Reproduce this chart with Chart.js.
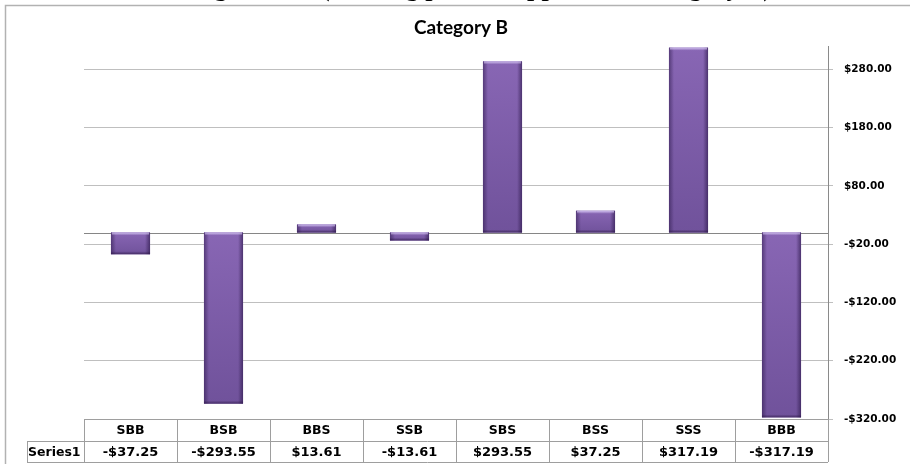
<!DOCTYPE html>
<html>
<head>
<meta charset="utf-8">
<script src="https://cdn.jsdelivr.net/npm/chart.js@4.4.1/dist/chart.umd.min.js"></script>
<style>
  html, body { margin: 0; padding: 0; background: #ffffff; overflow: hidden; }
  canvas { display: block; }
</style>
</head>
<body>
<canvas id="chart" width="910" height="464"></canvas>
<script>
// Series data
const categories = ['SBB', 'BSB', 'BBS', 'SSB', 'SBS', 'BSS', 'SSS', 'BBB'];
const series1 = [-37.25, -293.55, 13.61, -13.61, 293.55, 37.25, 317.19, -317.19];
const seriesName = 'Series1';

// Value axis
const yTickValues = [-320, -220, -120, -20, 80, 180, 280];
const yMin = -320;
const yMax = 320;

// Headings
const mainTitle = 'Trading Results (Trading pattern applied on Category B)';
const subTitle = 'Category B';

function money(v) {
  const s = '$' + Math.abs(v).toFixed(2);
  return v < 0 ? '-' + s : s;
}

const FONT_UI = '"DejaVu Sans", Verdana, sans-serif';

// White page, outer frame and headings
const framePlugin = {
  id: 'frame',
  beforeDraw(chart) {
    const ctx = chart.ctx;
    ctx.save();
    ctx.fillStyle = '#ffffff';
    ctx.fillRect(0, 0, chart.width, chart.height);
    ctx.restore();
  },
  afterDraw(chart) {
    const ctx = chart.ctx;
    ctx.save();
    // main heading sits above the frame, only its descenders reach the page
    ctx.fillStyle = '#000000';
    ctx.font = 'bold 26px "Liberation Serif", "DejaVu Serif", serif';
    ctx.textAlign = 'center';
    ctx.textBaseline = 'alphabetic';
    ctx.fillText(mainTitle, chart.width / 2, -4);

    // frame
    ctx.strokeStyle = '#b2b2b2';
    ctx.lineWidth = 1.5;
    ctx.beginPath();
    ctx.moveTo(5.5, chart.height);
    ctx.lineTo(5.5, 5.5);
    ctx.lineTo(chart.width, 5.5);
    ctx.stroke();

    // sub heading
    ctx.fillStyle = '#000000';
    ctx.font = 'bold 19px Lato, "Open Sans", sans-serif';
    ctx.textBaseline = 'middle';
    ctx.fillText(subTitle, 461, 28);
    ctx.restore();
  }
};

// Horizontal axis line at zero
const zeroLinePlugin = {
  id: 'zeroLine',
  beforeDatasetsDraw(chart) {
    const y = Math.round(chart.scales.y.getPixelForValue(0)) + 0.5;
    const area = chart.chartArea;
    const ctx = chart.ctx;
    ctx.save();
    ctx.strokeStyle = '#868686';
    ctx.lineWidth = 1;
    ctx.beginPath();
    ctx.moveTo(area.left, y);
    ctx.lineTo(area.right, y);
    ctx.stroke();
    ctx.restore();
  }
};

// Soft bevel shading on each bar
const bevelPlugin = {
  id: 'bevel',
  afterDatasetsDraw(chart) {
    const ctx = chart.ctx;
    const meta = chart.getDatasetMeta(0);
    ctx.save();
    meta.data.forEach((bar) => {
      const p = bar.getProps(['x', 'y', 'base', 'width'], true);
      const l = p.x - p.width / 2;
      const w = p.width;
      const t = Math.min(p.y, p.base);
      const h = Math.abs(p.base - p.y);
      if (h < 1) return;

      // body: slightly darker towards the bottom
      const body = ctx.createLinearGradient(0, t, 0, t + h);
      body.addColorStop(0, '#8866b4');
      body.addColorStop(1, '#70529b');
      ctx.fillStyle = body;
      ctx.fillRect(l, t, w, h);

      const e = Math.min(5, w / 4);
      // left edge
      let g = ctx.createLinearGradient(l, 0, l + e, 0);
      g.addColorStop(0, 'rgba(45,25,75,0.55)');
      g.addColorStop(1, 'rgba(45,25,75,0)');
      ctx.fillStyle = g;
      ctx.fillRect(l, t, e, h);
      // right edge
      g = ctx.createLinearGradient(l + w - e, 0, l + w, 0);
      g.addColorStop(0, 'rgba(45,25,75,0)');
      g.addColorStop(1, 'rgba(45,25,75,0.65)');
      ctx.fillStyle = g;
      ctx.fillRect(l + w - e, t, e, h);

      const s = Math.min(3, h / 3);
      // top highlight
      g = ctx.createLinearGradient(0, t, 0, t + s);
      g.addColorStop(0, 'rgba(215,200,245,0.9)');
      g.addColorStop(1, 'rgba(215,200,245,0)');
      ctx.fillStyle = g;
      ctx.fillRect(l + 1, t, w - 2, s);
      // bottom shade
      g = ctx.createLinearGradient(0, t + h - s, 0, t + h);
      g.addColorStop(0, 'rgba(40,20,65,0)');
      g.addColorStop(1, 'rgba(40,20,65,0.6)');
      ctx.fillStyle = g;
      ctx.fillRect(l, t + h - s, w, s);
    });
    ctx.restore();
  }
};

// Data table under the plot
const dataTablePlugin = {
  id: 'dataTable',
  afterDraw(chart) {
    const ctx = chart.ctx;
    const xs = chart.scales.x;
    const area = chart.chartArea;
    const step = xs.getPixelForValue(1) - xs.getPixelForValue(0);
    const left = area.left;
    const right = area.right;
    const rowTop = area.bottom;
    const rowMid = rowTop + 22;
    const rowBot = rowMid + 21;
    const labelLeft = 27;

    ctx.save();
    ctx.strokeStyle = '#9e9e9e';
    ctx.lineWidth = 1;
    ctx.beginPath();
    ctx.moveTo(left, rowTop + 0.5); ctx.lineTo(right, rowTop + 0.5);
    ctx.moveTo(labelLeft, rowMid + 0.5); ctx.lineTo(right, rowMid + 0.5);
    ctx.moveTo(labelLeft, rowBot + 0.5); ctx.lineTo(right, rowBot + 0.5);
    ctx.moveTo(labelLeft + 0.5, rowMid); ctx.lineTo(labelLeft + 0.5, rowBot);
    for (let i = 0; i <= categories.length; i++) {
      const x = Math.round(xs.getPixelForValue(i) - step / 2) + 0.5;
      ctx.moveTo(x, rowTop); ctx.lineTo(x, rowBot);
    }
    ctx.stroke();

    ctx.fillStyle = '#000000';
    ctx.textBaseline = 'middle';
    ctx.font = 'bold 12.5px ' + FONT_UI;
    ctx.textAlign = 'center';
    categories.forEach((c, i) => {
      ctx.fillText(c, xs.getPixelForValue(i), (rowTop + rowMid) / 2 + 1);
    });
    ctx.font = 'bold 13px ' + FONT_UI;
    series1.forEach((v, i) => {
      ctx.fillText(money(v), xs.getPixelForValue(i), (rowMid + rowBot) / 2 + 1);
    });
    ctx.font = 'bold 12.5px ' + FONT_UI;
    ctx.textAlign = 'left';
    ctx.fillText(seriesName, labelLeft + 1, (rowMid + rowBot) / 2 + 1);
    ctx.restore();
  }
};

new Chart(document.getElementById('chart'), {
  type: 'bar',
  data: {
    labels: categories,
    datasets: [{
      label: seriesName,
      data: series1,
      backgroundColor: '#7d5fa8',
      borderWidth: 0,
      barPercentage: 0.42,
      categoryPercentage: 1.0
    }]
  },
  options: {
    responsive: false,
    animation: false,
    layout: { padding: { left: 84, top: 46, bottom: 45, right: 0 } },
    plugins: {
      legend: { display: false },
      title: { display: false },
      tooltip: { enabled: false }
    },
    scales: {
      x: {
        display: false,
        offset: true
      },
      y: {
        position: 'right',
        min: yMin,
        max: yMax,
        afterBuildTicks(scale) {
          scale.ticks = yTickValues.map((v) => ({ value: v }));
        },
        afterFit(scale) {
          scale.width = 82;
        },
        grid: {
          color: '#bfbfbf',
          lineWidth: 1,
          tickLength: 5,
          drawTicks: true
        },
        border: { display: true, color: '#8a8a8a', width: 1 },
        ticks: {
          padding: 11,
          color: '#000000',
          font: { family: FONT_UI, size: 10.5, weight: 'bold' },
          callback: (v) => money(v)
        }
      }
    }
  },
  plugins: [framePlugin, zeroLinePlugin, bevelPlugin, dataTablePlugin]
});
</script>
</body>
</html>
